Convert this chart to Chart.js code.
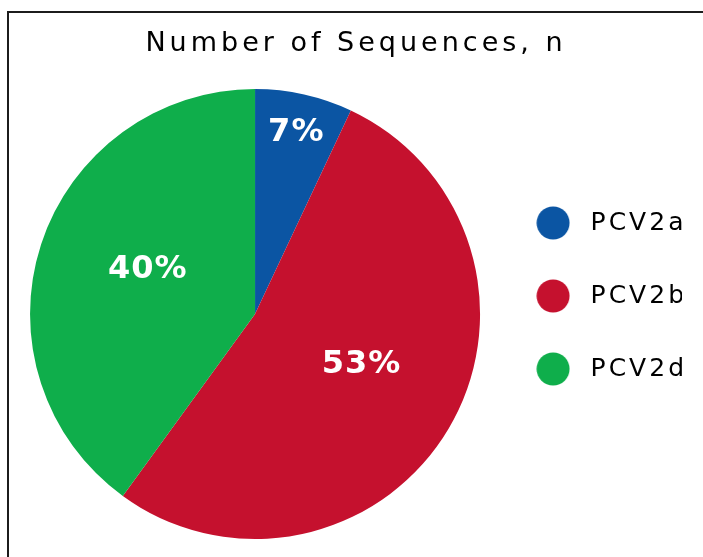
<!DOCTYPE html>
<html>
<head>
<meta charset="utf-8">
<script src="https://cdn.jsdelivr.net/npm/chart.js@4/dist/chart.umd.min.js"></script>
<style>
  html, body { margin: 0; padding: 0; background: #fff; overflow: hidden; }
  #frame { position: absolute; left: 7px; top: 11px; width: 720px; height: 560px;
           border-left: 2px solid #1c1c1c; border-top: 2px solid #1c1c1c; }
  #wrap { position: absolute; left: 0; top: 0; width: 704px; height: 544px; }
</style>
</head>
<body>
<div id="frame"><div id="wrap"><canvas id="c" width="704" height="544"></canvas></div></div>
<script>
// ---- data ----
const categories = ['PCV2a', 'PCV2b', 'PCV2d'];
const shares = [7, 53, 40];            // percent of sequences
const sliceColors = ['#0b55a3', '#c5112e', '#0fae4b'];
const chartTitle = 'Number of Sequences, n';

// ---- styling helpers ----
const FONT = "'DejaVu Sans', 'Verdana', sans-serif";
const labelRadius = [0.83, 0.52, 0.52];   // label distance from centre, fraction of radius
const labelAngleShift = [0, -5.5, 5];     // degrees, label placement tweak

function makeDot(color) {
  const d = 34;
  const cv = document.createElement('canvas');
  cv.width = d; cv.height = d;
  const g = cv.getContext('2d');
  g.fillStyle = color;
  g.beginPath();
  g.arc(d / 2, d / 2, 16.5, 0, Math.PI * 2);
  g.fill();
  return cv;
}

const spacingPlugin = {
  id: 'spacing',
  beforeDraw(chart) { chart.ctx.letterSpacing = '3px'; },
  beforeDatasetsDraw(chart) { chart.ctx.letterSpacing = '0px'; }
};

const titleSpacing = {
  id: 'titleSpacing',
  beforeDraw(chart) {
    // title is drawn first among boxes; widen its tracking slightly more
    const t = chart.titleBlock;
    if (t && !t._patched) {
      const orig = t.draw.bind(t);
      t.draw = function () {
        const prev = chart.ctx.letterSpacing;
        chart.ctx.letterSpacing = '4px';
        orig();
        chart.ctx.letterSpacing = prev;
      };
      t._patched = true;
    }
  }
};

const pctLabels = {
  id: 'pctLabels',
  afterDatasetsDraw(chart) {
    const ctx = chart.ctx;
    const meta = chart.getDatasetMeta(0);
    const data = chart.data.datasets[0].data;
    const total = data.reduce((a, b) => a + b, 0);
    ctx.save();
    ctx.letterSpacing = '1px';
    ctx.font = "bold 32px " + FONT;
    ctx.fillStyle = '#ffffff';
    ctx.textAlign = 'center';
    ctx.textBaseline = 'middle';
    meta.data.forEach((arc, i) => {
      const p = arc.getProps(['x', 'y', 'startAngle', 'endAngle', 'outerRadius'], true);
      const mid = (p.startAngle + p.endAngle) / 2 + labelAngleShift[i] * Math.PI / 180;
      const r = p.outerRadius * labelRadius[i];
      const txt = Math.round(data[i] / total * 100) + '%';
      ctx.fillText(txt, p.x + Math.cos(mid) * r + 0.5, p.y + Math.sin(mid) * r + 1);
    });
    ctx.restore();
  }
};

new Chart(document.getElementById('c'), {
  type: 'pie',
  data: {
    labels: categories,
    datasets: [{
      data: shares,
      backgroundColor: sliceColors,
      borderWidth: 0
    }]
  },
  options: {
    responsive: false,
    animation: false,
    layout: { padding: { left: 21, top: 0, right: 31, bottom: 18 } },
    plugins: {
      tooltip: { enabled: false },
      title: {
        display: true,
        text: chartTitle,
        color: '#000000',
        font: { family: FONT, size: 27, weight: 'normal', lineHeight: 1.2 },
        padding: { top: 14.8, bottom: 28.8 }
      },
      legend: {
        position: 'right',
        align: 'center',
        title: { display: true, text: '', font: { size: 40, lineHeight: 1 }, padding: 0 },
        labels: {
          usePointStyle: true,
          pointStyleWidth: 50,
          padding: 48,
          color: '#000000',
          font: { family: FONT, size: 25, weight: 'normal' },
          generateLabels(chart) {
            const base = Chart.overrides.pie.plugins.legend.labels.generateLabels(chart);
            return base.map(item => Object.assign(item, { pointStyle: makeDot(item.fillStyle) }));
          }
        }
      }
    }
  },
  plugins: [spacingPlugin, titleSpacing, pctLabels]
});
</script>
</body>
</html>
